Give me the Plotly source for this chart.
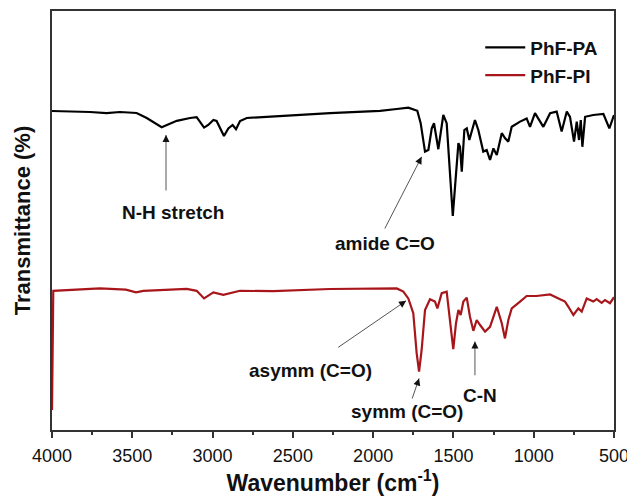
import plotly.graph_objects as go

# PhF-PA (black) spectrum
pa_wavenumber = [4000, 3763, 3660, 3577, 3473, 3410, 3317, 3223, 3140, 3099, 3053, 3027, 2995, 2975,
                 2929, 2902, 2875, 2854, 2829, 2787, 2269, 2206, 1957, 1853, 1781, 1725, 1704, 1677,
                 1656, 1635, 1621, 1594, 1563, 1542, 1521, 1504, 1490, 1469, 1459, 1448, 1432, 1417,
                 1401, 1366, 1345, 1314, 1293, 1272, 1251, 1230, 1199, 1178, 1158, 1137, 1085, 1044,
                 1023, 992, 940, 898, 857, 826, 794, 774, 749, 732, 718, 707, 697, 680, 629, 566, 529, 500]
pa_transmittance = [79.75, 79.5, 79.2, 79.5, 79.25, 78.0, 75.7, 77.3, 78.0, 78.2, 75.6, 76.25, 77.5, 77.25,
                    73.5, 75.4, 76.25, 75.2, 77.25, 78.0, 79.2, 79.3, 79.8, 80.25, 80.6, 79.8, 76.7, 69.6,
                    70.0, 75.4, 76.7, 70.2, 78.75, 76.7, 62.5, 53.5, 60.8, 71.7, 70.8, 64.6, 75.0, 75.4,
                    72.5, 77.5, 75.0, 69.6, 70.0, 67.5, 70.4, 68.75, 74.2, 72.9, 72.1, 75.8, 77.1, 77.9,
                    75.8, 79.2, 75.8, 79.2, 79.6, 74.6, 79.6, 78.3, 72.1, 77.1, 72.5, 77.5, 70.8, 78.3,
                    78.75, 79.0, 75.4, 78.75]

# PhF-PI (red) spectrum
pi_wavenumber = [4000, 3992, 3701, 3540, 3477, 3431, 3161, 3099, 3053, 2995, 2933, 2829, 2622, 2269,
                 1853, 1812, 1781, 1750, 1729, 1714, 1698, 1677, 1646, 1615, 1600, 1573, 1542, 1521,
                 1501, 1484, 1469, 1455, 1438, 1417, 1397, 1376, 1355, 1334, 1303, 1272, 1230, 1199,
                 1179, 1158, 1137, 1085, 1044, 982, 898, 836, 805, 784, 753, 722, 701, 670, 629, 608,
                 577, 556, 525, 500]
pi_transmittance = [5.0, 34.8, 35.4, 35.1, 34.4, 34.8, 35.3, 34.8, 32.9, 34.4, 33.8, 34.8, 34.7, 35.25,
                    35.4, 34.6, 32.9, 29.2, 19.2, 14.6, 20.0, 30.0, 32.7, 32.1, 30.4, 34.2, 34.6, 27.5,
                    20.2, 26.7, 30.0, 28.75, 32.1, 33.1, 28.3, 24.8, 27.5, 26.25, 24.6, 25.8, 30.8, 26.7,
                    22.9, 27.5, 30.4, 32.1, 33.5, 33.5, 33.9, 32.7, 32.1, 30.8, 28.75, 30.4, 29.6, 32.9,
                    32.1, 32.7, 31.8, 32.5, 31.7, 33.2]

x_ticks = [4000, 3500, 3000, 2500, 2000, 1500, 1000, 500]

FONT = "Liberation Sans"
AXC = "#333333"
TXT = "#111111"

fig = go.Figure()
fig.add_trace(go.Scatter(x=pa_wavenumber, y=pa_transmittance, mode="lines", name="PhF-PA",
                         line=dict(color="black", width=2.2)))
fig.add_trace(go.Scatter(x=pi_wavenumber, y=pi_transmittance, mode="lines", name="PhF-PI",
                         line=dict(color="#A8161B", width=2.2)))

# arrow tip (x, y), tail (ax, ay), and short pixel offset for the dark head
arrows = [
    (3290, 73.75, 3290, 59.5, 0, 8),
    (1698, 68.3, 1932, 50.0, -3.7, 7.1),
    (1795, 32.3, 2227, 20.4, -6.6, 4.5),
    (1714, 12.9, 1760, 7.5, -2.5, 7.6),
    (1366, 22.1, 1366, 13.3, 0, 8),
]
for x, y, ax, ay, hx, hy in arrows:
    fig.add_annotation(x=x, y=y, ax=ax, ay=ay, xref="x", yref="y", axref="x", ayref="y",
                       text="", showarrow=True, arrowhead=0, arrowwidth=1,
                       arrowcolor="#555555")
    fig.add_annotation(x=x, y=y, ax=hx, ay=hy, xref="x", yref="y", axref="pixel", ayref="pixel",
                       text="", showarrow=True, arrowhead=2, arrowsize=1.4, arrowwidth=1,
                       arrowcolor="#111111")

labels = [
    ("N-H stretch", 3246, 54.5),
    ("amide C=O", 1926, 46.7),
    ("asymm (C=O)", 2393, 15.0),
    ("symm (C=O)", 1791, 4.6),
    ("C-N", 1334, 8.75),
]
for t, x, y in labels:
    fig.add_annotation(x=x, y=y, xref="x", yref="y", text=t, showarrow=False,
                       font=dict(family=FONT, size=19, color=TXT, weight="bold"))

fig.update_layout(
    width=627, height=491,
    margin=dict(l=44, r=21, t=3, b=69, autoexpand=False),
    paper_bgcolor="white", plot_bgcolor="white",
    showlegend=True,
    legend=dict(x=0.762, y=0.958, xanchor="left", yanchor="top", bgcolor="rgba(0,0,0,0)",
                font=dict(family=FONT, size=19, color=TXT, weight="bold"),
                tracegroupgap=0, itemwidth=40),
    xaxis=dict(range=[4000, 500], tickvals=x_ticks, ticks="outside", ticklen=6, tickwidth=1.5,
               tickcolor=AXC, showline=True, linewidth=1.5, linecolor=AXC, mirror=True,
               showgrid=False, zeroline=False, ticklabelstandoff=3, automargin=False,
               minor=dict(dtick=250, ticks="outside", ticklen=3, tickwidth=1.5, tickcolor=AXC),
               tickfont=dict(family=FONT, size=18, color=TXT),
               title=dict(text="Wavenumber (cm<sup>-1</sup>)", standoff=6,
                          font=dict(family=FONT, size=23, color=TXT, weight="bold"))),
    yaxis=dict(range=[0, 104.75], showticklabels=False, ticks="", showline=True, linewidth=1.5,
               linecolor=AXC, mirror=True, showgrid=False, zeroline=False, automargin=False,
               title=dict(text="Transmittance (%)", standoff=14,
                          font=dict(family=FONT, size=22, color=TXT, weight="bold"))),
)

fig.write_html("out.html")
